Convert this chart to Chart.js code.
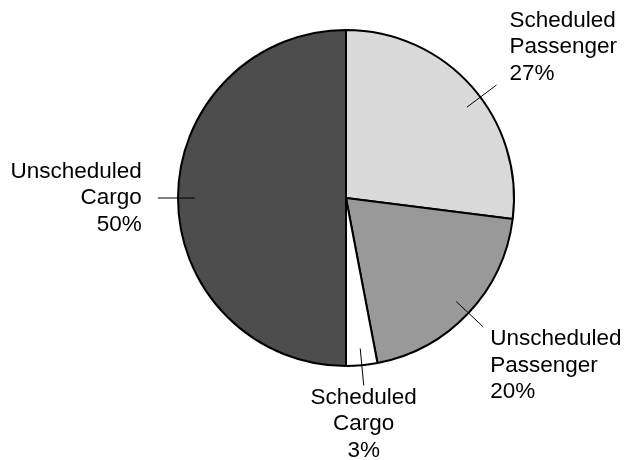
<!DOCTYPE html>
<html>
<head>
<meta charset="utf-8">
<script src="https://cdn.jsdelivr.net/npm/chart.js@4/dist/chart.umd.min.js"></script>
<style>
  html, body { margin: 0; padding: 0; background: #ffffff; }
  #wrap { width: 626px; height: 460px; position: relative; }
</style>
</head>
<body>
<div id="wrap"><canvas id="pie"></canvas></div>
<script>
// Share of flights by service type
const categories = ['Scheduled Passenger', 'Unscheduled Passenger', 'Scheduled Cargo', 'Unscheduled Cargo'];
const labelLines = [['Scheduled', 'Passenger'], ['Unscheduled', 'Passenger'], ['Scheduled', 'Cargo'], ['Unscheduled', 'Cargo']];
const shares = [27, 20, 3, 50];
const sliceColors = ['#d9d9d9', '#999999', '#ffffff', '#4d4d4d'];

// Draws a short radial leader line across the rim of each slice, plus its label
const outsideLabels = {
  id: 'outsideLabels',
  afterDatasetsDraw(chart, args, opts) {
    const ctx = chart.ctx;
    const meta = chart.getDatasetMeta(0);
    const data = chart.data.datasets[0].data;
    const total = data.reduce((a, b) => a + b, 0);
    ctx.save();
    ctx.font = opts.font;
    ctx.fillStyle = '#000000';
    meta.data.forEach((arc, i) => {
      const p = arc.getProps(['x', 'y', 'startAngle', 'endAngle', 'outerRadius'], true);
      const nudge = (opts.angleNudge[i] || 0) * Math.PI / 180;
      const a = (p.startAngle + p.endAngle) / 2 + nudge;
      const c = Math.cos(a), s = Math.sin(a);
      const r = p.outerRadius;
      const x0 = p.x + c * r * opts.inner, y0 = p.y + s * r * opts.inner;
      const x1 = p.x + c * r * opts.outer, y1 = p.y + s * r * opts.outer;
      ctx.strokeStyle = '#000000';
      ctx.lineWidth = 1;
      ctx.beginPath();
      ctx.moveTo(x0, y0);
      ctx.lineTo(x1, y1);
      ctx.stroke();

      const lines = labelLines[i].concat([Math.round(data[i] / total * 100) + '%']);
      const lh = opts.lineHeight;
      const blockH = lines.length * lh;
      // upper labels sit a little further out than lower ones
      const gap = s < -0.3 ? 13 : (s > 0.3 ? 7 : 16);
      let tx;
      if (Math.abs(c) < 0.2) { ctx.textAlign = 'center'; tx = x1; }
      else if (c > 0) { ctx.textAlign = 'left'; tx = x1 + gap; }
      else { ctx.textAlign = 'right'; tx = x1 - gap; }
      let top;
      if (s < -0.3) top = y1 - blockH + 2;
      else if (s > 0.3) top = y1 - 1;
      else top = y1 - blockH / 2;
      ctx.textBaseline = 'middle';
      lines.forEach((t, k) => ctx.fillText(t, tx, top + lh * (k + 0.5)));
    });
    ctx.restore();
  }
};

new Chart(document.getElementById('pie'), {
  type: 'pie',
  data: {
    labels: categories,
    datasets: [{
      data: shares,
      backgroundColor: sliceColors,
      borderColor: '#000000',
      borderWidth: 2
    }]
  },
  options: {
    responsive: true,
    maintainAspectRatio: false,
    animation: false,
    layout: { padding: { left: 177, right: 111, top: 29, bottom: 93 } },
    plugins: {
      legend: { display: false },
      tooltip: { enabled: false },
      outsideLabels: {
        font: '22.5px "Liberation Sans", Arial, sans-serif',
        lineHeight: 26.5,
        inner: 0.9,
        outer: 1.12,
        angleNudge: [4.5, 0, 0, 0]
      }
    }
  },
  plugins: [outsideLabels]
});
</script>
</body>
</html>
